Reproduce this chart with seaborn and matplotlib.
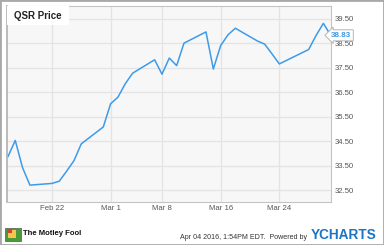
import matplotlib
matplotlib.use("Agg")
import matplotlib.pyplot as plt
import matplotlib.dates as mdates
import matplotlib.transforms as mtransforms
from matplotlib.patches import Rectangle
import seaborn as sns
import pandas as pd

# ---- data ----
dates = ["2016-02-16", "2016-02-17", "2016-02-18", "2016-02-19", "2016-02-22",
         "2016-02-23", "2016-02-24", "2016-02-25", "2016-02-26", "2016-02-29",
         "2016-03-01", "2016-03-02", "2016-03-03", "2016-03-04", "2016-03-07",
         "2016-03-08", "2016-03-09", "2016-03-10", "2016-03-11", "2016-03-14",
         "2016-03-15", "2016-03-16", "2016-03-17", "2016-03-18", "2016-03-21",
         "2016-03-22", "2016-03-23", "2016-03-24", "2016-03-28", "2016-03-29",
         "2016-03-30", "2016-03-31"]
prices = [33.86, 34.53, 33.41, 32.70, 32.77, 32.86, 33.27, 33.70, 34.39, 35.08,
          36.03, 36.30, 36.85, 37.28, 37.83, 37.24, 37.90, 37.59, 38.51, 38.97,
          37.45, 38.41, 38.85, 39.12, 38.60, 38.47, 38.07, 37.66, 38.25, 38.82,
          39.32, 38.83]
tick_dates = ["2016-02-22", "2016-03-01", "2016-03-08", "2016-03-16", "2016-03-24"]
tick_labels = ["Feb 22", "Mar 1", "Mar 8", "Mar 16", "Mar 24"]
y_ticks = [32.5, 33.5, 34.5, 35.5, 36.5, 37.5, 38.5, 39.5]
title = "QSR Price"

df = pd.DataFrame({"date": pd.to_datetime(dates), "price": prices})

sns.set_theme(style="white")
plt.rcParams["font.family"] = ["Liberation Sans", "DejaVu Sans"]

W, H = 384, 245
fig = plt.figure(figsize=(W / 100, H / 100), dpi=100)
fig.patch.set_facecolor("white")


def fx(px):
    return px / W


def fy(py):
    return 1 - py / H


L, R, T, B = 7, 331, 6, 202
ax = fig.add_axes([fx(L), fy(B), fx(R) - fx(L), fy(T) - fy(B)])
ax.set_facecolor("#f7f7f7")

line_color = "#3d9be9"
sns.lineplot(data=df, x="date", y="price", ax=ax, color=line_color, linewidth=1.1)

ax.set_xlim(pd.Timestamp("2016-02-16") - pd.Timedelta(hours=3),
            pd.Timestamp("2016-03-31") + pd.Timedelta(hours=1))
ax.set_ylim(32.01, 40.03)

ax.set_xticks(pd.to_datetime(tick_dates))
ax.set_xticklabels(tick_labels)
ax.set_yticks(y_ticks)
ax.set_yticklabels([f"{v:.2f}" for v in y_ticks])
ax.yaxis.tick_right()
ax.tick_params(axis="both", length=0, labelsize=5.6, colors="#555555")
ax.tick_params(axis="y", pad=3)
ax.tick_params(axis="x", pad=2.5)
ax.set_xlabel("")
ax.set_ylabel("")

ax.grid(True, color="#e4e4e4", linewidth=1.0)
ax.set_axisbelow(True)
for s in ax.spines.values():
    s.set_visible(True)
    s.set_color("#c4c4c4")
    s.set_linewidth(0.8)
ax.spines["left"].set_color("#b0b0b0")
ax.spines["left"].set_linewidth(1.2)

# title box
ax.add_patch(Rectangle((0, 1 - 19 / 196), (69 - 7) / 324, 19 / 196,
                       transform=ax.transAxes, facecolor="white",
                       edgecolor="none", zorder=3))
fig.text(fx(14), fy(19), title, fontsize=7, fontweight="bold",
         color="#222222", va="baseline", ha="left", zorder=5)

# last price label
trans = mtransforms.blended_transform_factory(ax.transAxes, ax.transData)
ax.text(1.0, prices[-1], f"{prices[-1]:.2f}", transform=trans,
        fontsize=5.8, fontweight="bold", color=line_color, ha="left", va="center",
        bbox=dict(boxstyle="larrow,pad=0.25", facecolor="white",
                  edgecolor="#aaaaaa", linewidth=0.6),
        zorder=6, clip_on=False)

# footer
logo = Rectangle((fx(5), fy(241)), fx(16), 13 / H, transform=fig.transFigure,
                 facecolor="#4a9a3a", edgecolor="#555555", linewidth=0.5)
fig.patches.append(logo)
fig.patches.append(Rectangle((fx(8), fy(238)), fx(8), 8 / H, transform=fig.transFigure,
                             facecolor="#f2c94c", edgecolor="none"))
fig.patches.append(Rectangle((fx(7), fy(233)), fx(5), 4 / H, transform=fig.transFigure,
                             facecolor="#d8402f", edgecolor="none"))
fig.text(fx(23), fy(235), "The Motley Fool", fontsize=5.6, fontweight="bold",
         color="#111111", va="baseline", ha="left")
fig.text(fx(307), fy(239), "Apr 04 2016, 1:54PM EDT.  Powered by", fontsize=5.1,
         color="#333333", va="baseline", ha="right")
fig.text(fx(311), fy(239), "YCHARTS", fontsize=9.8, fontweight="bold",
         color="#1b74c6", va="baseline", ha="left")

# outer frame
fig.patches.append(Rectangle((0, 0), 1, 1, transform=fig.transFigure, fill=False,
                             edgecolor="#a8a8a8", linewidth=2.0))

fig.savefig("out.png", dpi=100)
